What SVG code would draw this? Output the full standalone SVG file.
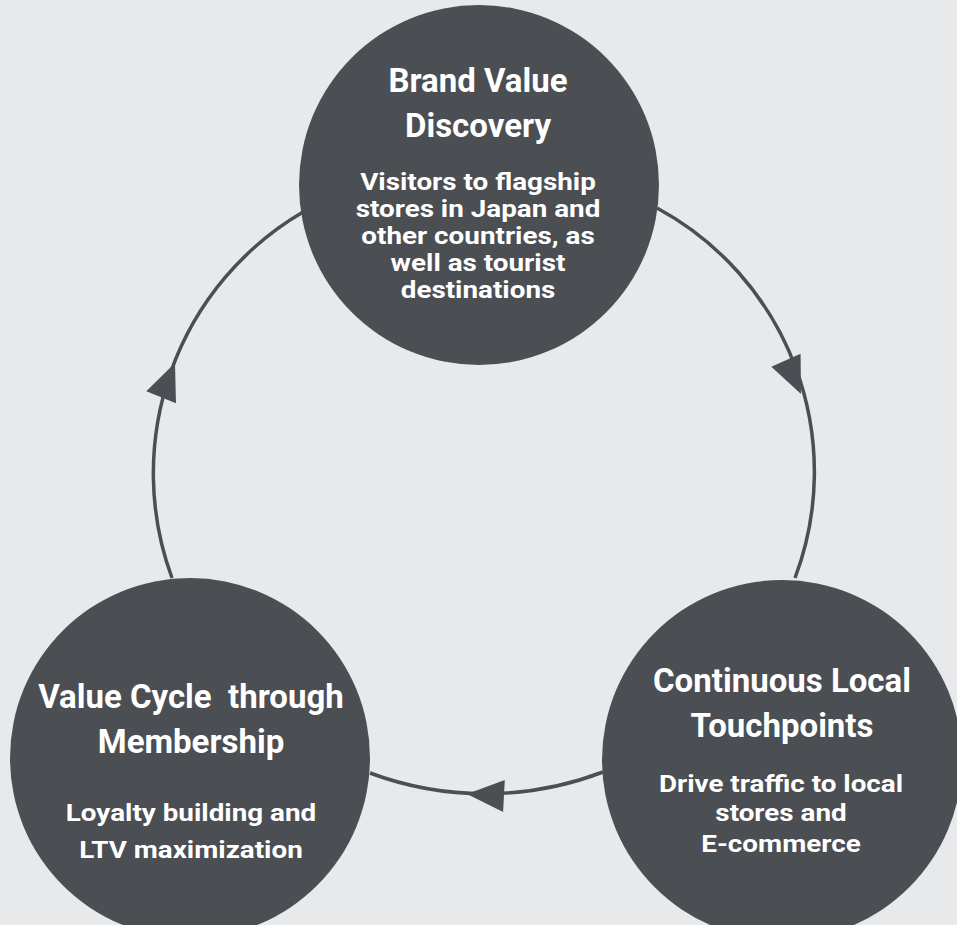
<svg xmlns="http://www.w3.org/2000/svg" width="957" height="925" viewBox="0 0 957 925">
  <style>
    .node { fill: #4b4e53; }
    .edge { fill: none; stroke: #4b4e53; stroke-width: 3.5; }
    .head { fill: #4b4e53; }
    .title { font-family: Roboto, "Liberation Sans", sans-serif; font-weight: 700; font-size: 33px; fill: #ffffff; text-anchor: middle; }
    .sub { font-family: Roboto, "Liberation Sans", sans-serif; font-weight: 700; font-size: 23px; fill: #ffffff; text-anchor: middle; }
  </style>
  <defs>
    <path id="arrow" d="M0,0 L-37,-16 L-37,16 Z"/>
  </defs>
  <rect width="957" height="925" fill="#e8e9eb"/>
  <g id="connectors">
    <path class="edge" d="M172,578 A303,303 0 0 1 303,212"/>
    <path class="edge" d="M657,208 A300,300 0 0 1 795,578"/>
    <path class="edge" d="M603,772 A330,330 0 0 1 370,773"/>
    <use href="#arrow" class="head" transform="translate(175,363) rotate(-68)"/>
    <use href="#arrow" class="head" transform="translate(801,394) rotate(66)"/>
    <use href="#arrow" class="head" transform="translate(467,794) rotate(183)"/>
  </g>
  <g id="node-brand-value-discovery">
    <circle class="node" cx="479" cy="185" r="180"/>
    <text class="title" x="478" y="92">Brand Value</text>
    <text class="title" x="478" y="137">Discovery</text>
    <g transform="translate(478,0) scale(1.21,1)">
      <text class="sub" x="0" y="190">Visitors to flagship</text>
      <text class="sub" x="0" y="217">stores in Japan and</text>
      <text class="sub" x="0" y="244">other countries, as</text>
      <text class="sub" x="0" y="271">well as tourist</text>
      <text class="sub" x="0" y="298">destinations</text>
    </g>
  </g>
  <g id="node-continuous-local-touchpoints">
    <circle class="node" cx="782" cy="760" r="180"/>
    <text class="title" x="782" y="692">Continuous Local</text>
    <text class="title" x="782" y="737">Touchpoints</text>
    <g transform="translate(781,0) scale(1.21,1)">
      <text class="sub" x="0" y="792">Drive traffic to local</text>
      <text class="sub" x="0" y="821">stores and</text>
      <text class="sub" x="0" y="852">E-commerce</text>
    </g>
  </g>
  <g id="node-value-cycle-membership">
    <circle class="node" cx="190" cy="758" r="180"/>
    <text class="title" x="191" y="708" xml:space="preserve">Value Cycle  through</text>
    <text class="title" x="191" y="753">Membership</text>
    <g transform="translate(191,0) scale(1.21,1)">
      <text class="sub" x="0" y="821">Loyalty building and</text>
      <text class="sub" x="0" y="858">LTV maximization</text>
    </g>
  </g>
</svg>
